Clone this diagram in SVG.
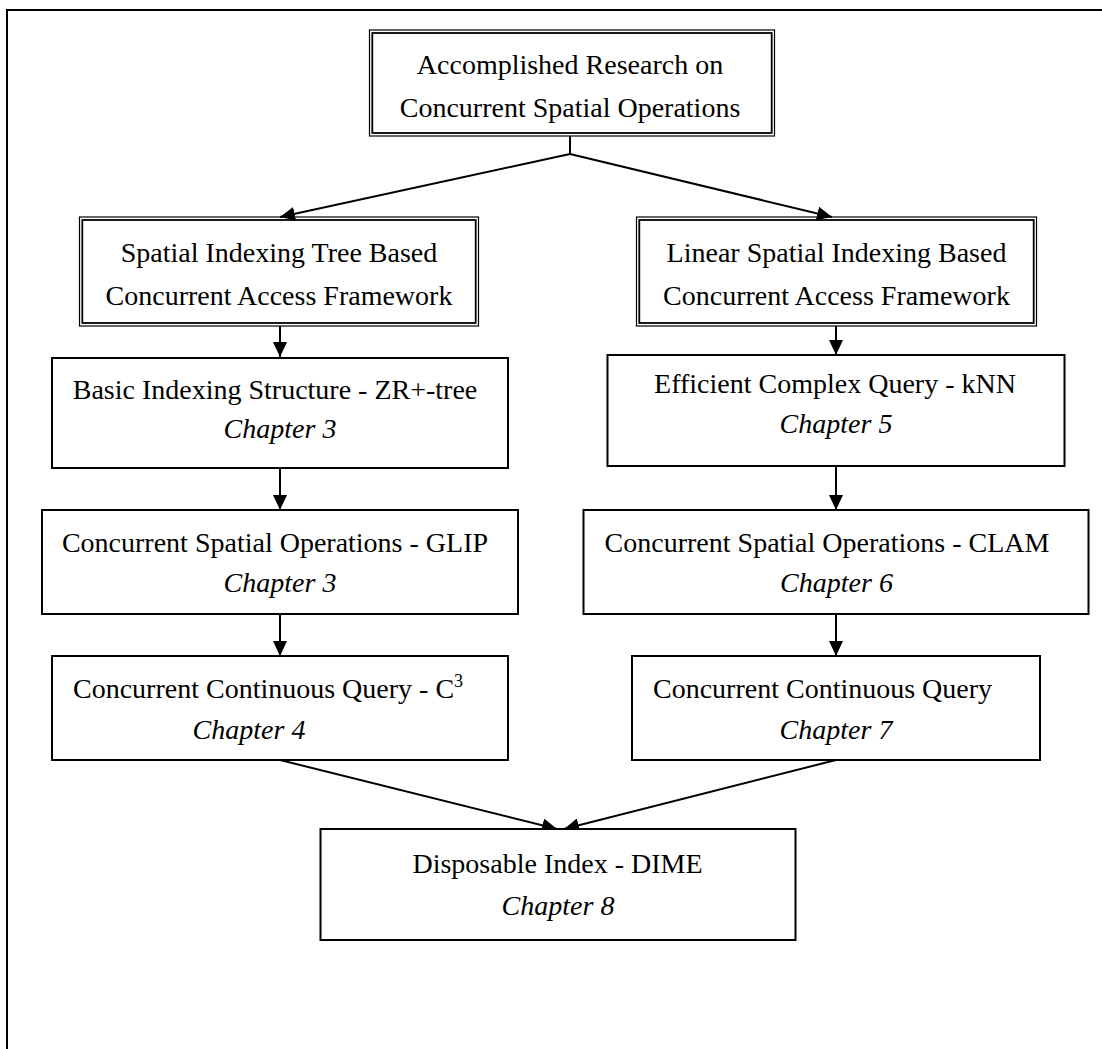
<svg xmlns="http://www.w3.org/2000/svg" width="1102" height="1049" viewBox="0 0 1102 1049">
<defs>
<style>
text{font-family:"Liberation Serif","Times New Roman",serif;font-size:28px;fill:#000}
.c{text-anchor:middle}
.i{font-style:italic}
.box{fill:#fff;stroke:#000;stroke-width:2}
.outer{fill:none;stroke:#000;stroke-width:1.2}
.inner{fill:#fff;stroke:#000;stroke-width:1.8}
.edge{fill:none;stroke:#000;stroke-width:2}
</style>
<marker id="ah" viewBox="0 0 15 14" refX="15" refY="7" markerWidth="15" markerHeight="14" markerUnits="userSpaceOnUse" orient="auto">
<path d="M0,0 L15,7 L0,14 z" fill="#000"/>
</marker>
</defs>
<rect x="7" y="10" width="1110" height="1060" fill="#fff" stroke="#000" stroke-width="2"/>
<g id="connectors">
<path class="edge" d="M570,136 L570,154"/>
<path class="edge" d="M570,154 L280,217" marker-end="url(#ah)"/>
<path class="edge" d="M570,154 L832,217" marker-end="url(#ah)"/>
<path class="edge" d="M280,326 L280,357" marker-end="url(#ah)"/>
<path class="edge" d="M280,468 L280,510" marker-end="url(#ah)"/>
<path class="edge" d="M280,614 L280,656" marker-end="url(#ah)"/>
<path class="edge" d="M836,326 L836,355" marker-end="url(#ah)"/>
<path class="edge" d="M836,466 L836,510" marker-end="url(#ah)"/>
<path class="edge" d="M836,614 L836,656" marker-end="url(#ah)"/>
<path class="edge" d="M280,760 L557,829" marker-end="url(#ah)"/>
<path class="edge" d="M836,760 L564,829" marker-end="url(#ah)"/>
</g>
<g id="n-root">
<rect class="outer" x="369.5" y="30" width="405" height="106"/>
<rect class="inner" x="372.3" y="33" width="399.4" height="100"/>
<text class="c" x="570" y="74">Accomplished Research on</text>
<text class="c" x="570" y="117">Concurrent Spatial Operations</text>
</g>
<g id="n-tree">
<rect class="outer" x="79.5" y="217" width="399" height="109"/>
<rect class="inner" x="82.3" y="220" width="393.4" height="103"/>
<text class="c" x="279" y="262">Spatial Indexing Tree Based</text>
<text class="c" x="279" y="305">Concurrent Access Framework</text>
</g>
<g id="n-linear">
<rect class="outer" x="636.5" y="217" width="400" height="109"/>
<rect class="inner" x="639.3" y="220" width="394.4" height="103"/>
<text class="c" x="836.5" y="262">Linear Spatial Indexing Based</text>
<text class="c" x="836.5" y="305">Concurrent Access Framework</text>
</g>
<g id="n-zr">
<rect class="box" x="52" y="358" width="456" height="110"/>
<text class="c" x="275" y="399">Basic Indexing Structure - ZR+-tree</text>
<text class="c i" x="280" y="438">Chapter 3</text>
</g>
<g id="n-knn">
<rect class="box" x="607.5" y="355" width="457" height="111"/>
<text class="c" x="835" y="393">Efficient Complex Query - kNN</text>
<text class="c i" x="836" y="433">Chapter 5</text>
</g>
<g id="n-glip">
<rect class="box" x="42" y="510" width="476" height="104"/>
<text class="c" x="275" y="552">Concurrent Spatial Operations - GLIP</text>
<text class="c i" x="280" y="592">Chapter 3</text>
</g>
<g id="n-clam">
<rect class="box" x="583.5" y="510" width="505" height="104"/>
<text class="c" x="827" y="552">Concurrent Spatial Operations - CLAM</text>
<text class="c i" x="836.5" y="592">Chapter 6</text>
</g>
<g id="n-c3">
<rect class="box" x="52" y="656" width="456" height="104"/>
<text x="73" y="698">Concurrent Continuous Query - C<tspan font-size="18" dy="-11">3</tspan></text>
<text class="c i" x="249" y="739">Chapter 4</text>
</g>
<g id="n-cq">
<rect class="box" x="632" y="656" width="408" height="104"/>
<text x="653" y="698">Concurrent Continuous Query</text>
<text class="c i" x="836" y="739">Chapter 7</text>
</g>
<g id="n-dime">
<rect class="box" x="320.5" y="829" width="475" height="111"/>
<text class="c" x="557.5" y="873">Disposable Index - DIME</text>
<text class="c i" x="558" y="915">Chapter 8</text>
</g>
</svg>
